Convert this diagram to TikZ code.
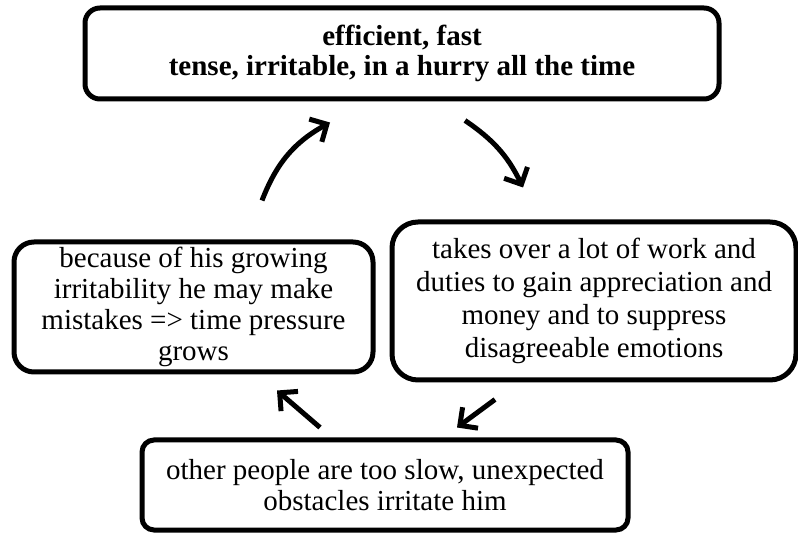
\documentclass[tikz,border=0pt]{standalone}
\usepackage{fontspec}
\setmainfont{Liberation Serif}
\usetikzlibrary{arrows.meta}

\begin{document}
\begin{tikzpicture}[
  x=1pt, y=1pt,
  every node/.style={align=center},
  box/.style={rectangle, draw=black, line width=5pt, inner sep=0pt,
    font=\fontsize{29}{31}\selectfont},
  arrow/.style={-{Straight Barb[length=13pt, width=26pt]}, line width=5pt},
]
  \useasboundingbox (0,0) rectangle (798,533);

  % the four stages of the loop
  \node[box, rounded corners=15pt, minimum width=634pt, minimum height=91pt,
    font=\fontsize{29}{30}\selectfont\bfseries] (state) at (402,479.5)
    {efficient, fast\\tense, irritable, in a hurry all the time};
  \node[box, rounded corners=26pt, minimum width=404pt, minimum height=158pt,
    font=\fontsize{29}{33}\selectfont] (workload) at (594,232)
    {takes over a lot of work and\\duties to gain appreciation and\\money and to suppress\\disagreeable emotions};
  \node[box, rounded corners=12pt, minimum width=486pt, minimum height=90pt] (obstacles) at (385,48)
    {other people are too slow, unexpected\\obstacles irritate him};
  \node[box, rounded corners=20pt, minimum width=359pt, minimum height=130pt] (mistakes) at (193.5,226)
    {because of his growing\\irritability he may make\\mistakes => time pressure\\grows};

  % clockwise arrows between them
  \draw[arrow] ([xshift=68.5pt, yshift=39pt]mistakes.north) to[bend left=20] ([xshift=-72pt, yshift=-21pt]state.south);
  \draw[arrow] ([xshift=63pt, yshift=-19pt]state.south) to[bend left=15] ([xshift=-71pt, yshift=32pt]workload.north);
  \draw[arrow] ([xshift=-99pt, yshift=-17pt]workload.south) -- ([xshift=72pt, yshift=10pt]obstacles.north);
  \draw[arrow] ([xshift=-65pt, yshift=10pt]obstacles.north) -- ([xshift=83.5pt, yshift=-16pt]mistakes.south);
\end{tikzpicture}
\end{document}
